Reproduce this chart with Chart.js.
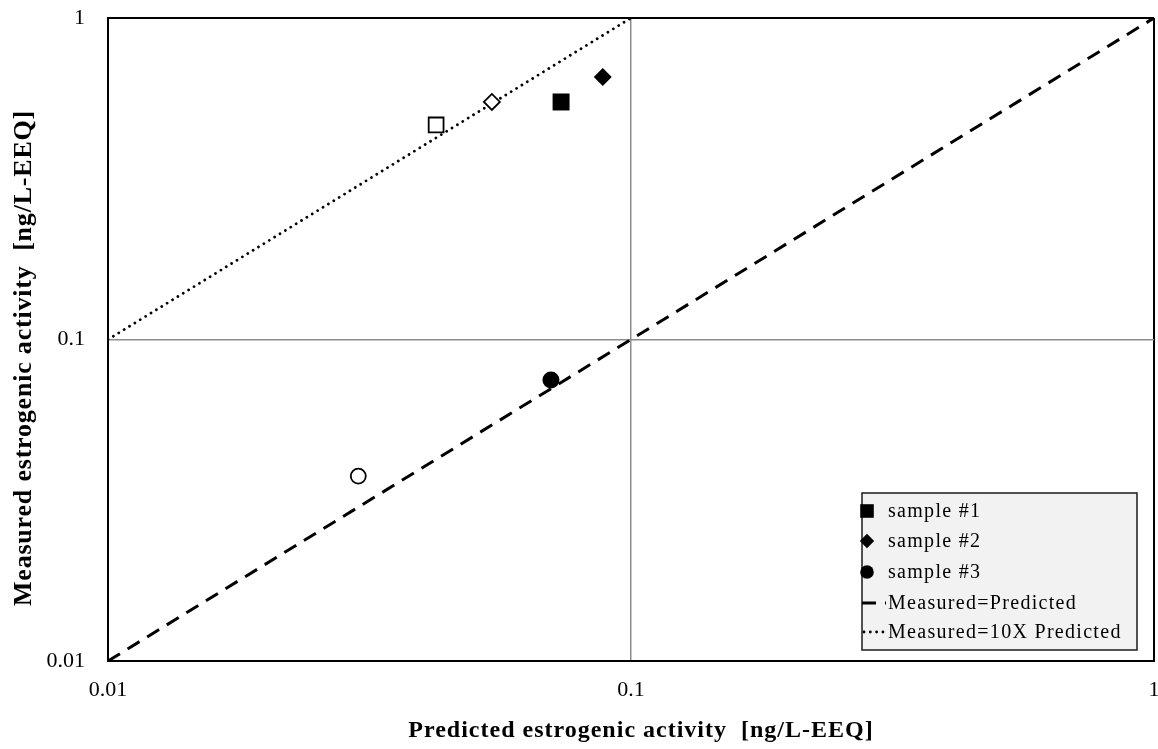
<!DOCTYPE html>
<html>
<head>
<meta charset="utf-8">
<script src="https://cdn.jsdelivr.net/npm/chart.js@4.4.1/dist/chart.umd.min.js"></script>
<style>
  html, body { margin: 0; padding: 0; background: #fff; overflow: hidden; }
  canvas { display: block; }
</style>
</head>
<body>
<canvas id="c" width="1158" height="749"></canvas>
<script>
// Sample names (filled markers appear in the legend)
const sampleNames = ['sample #1', 'sample #2', 'sample #3'];

// Filled markers: predicted vs measured activity [ng/L-EEQ]
const filledPredicted = [0.0735, 0.0883, 0.0703];
const filledMeasured  = [0.548, 0.655, 0.0748];

// Open markers of the same three samples
const openPredicted = [0.0424, 0.0542, 0.0301];
const openMeasured  = [0.465, 0.548, 0.0376];

// Reference lines
const equalLineX = [0.01, 1];
const equalLineY = [0.01, 1];
const tenXLineX  = [0.01, 0.1];
const tenXLineY  = [0.1, 1];

// Axis ticks and their labels
const axisTicks  = [0.01, 0.1, 1];
const tickLabels = ['0.01', '0.1', '1'];

const lineNames = ['Measured=Predicted', 'Measured=10X Predicted'];
const xTitle = 'Predicted estrogenic activity  [ng/L-EEQ]';
const yTitle = 'Measured estrogenic activity  [ng/L-EEQ]';

const serif = '"Liberation Serif", "Times New Roman", serif';
const shapes = ['rect', 'rectRot', 'circle'];
const filledRadius = [12, 9, 8.5];
const openRadius = [10.5, 8, 7.5];

const pts = (xs, ys) => xs.map((x, i) => ({ x, y: ys[i] }));

const datasets = [];
sampleNames.forEach((name, i) => {
  datasets.push({
    label: name,
    data: pts([filledPredicted[i]], [filledMeasured[i]]),
    pointStyle: shapes[i],
    pointRadius: filledRadius[i],
    pointHoverRadius: filledRadius[i],
    pointBackgroundColor: '#000',
    pointBorderColor: '#000',
    pointBorderWidth: 0,
    showLine: false,
    order: 1,
    inLegend: true,
    legendRadius: filledRadius[i] * 0.8
  });
});
sampleNames.forEach((name, i) => {
  datasets.push({
    label: name + ' (open)',
    data: pts([openPredicted[i]], [openMeasured[i]]),
    pointStyle: shapes[i],
    pointRadius: openRadius[i],
    pointHoverRadius: openRadius[i],
    pointBackgroundColor: '#fff',
    pointBorderColor: '#000',
    pointBorderWidth: 1.8,
    showLine: false,
    order: 1,
    inLegend: false
  });
});
datasets.push({
  label: lineNames[0],
  data: pts(equalLineX, equalLineY),
  showLine: true,
  borderColor: '#000',
  borderWidth: 3,
  borderDash: [14, 9],
  pointRadius: 0,
  order: 5,
  inLegend: true
});
datasets.push({
  label: lineNames[1],
  data: pts(tenXLineX, tenXLineY),
  showLine: true,
  borderColor: '#000',
  borderWidth: 2.8,
  borderDash: [0.01, 6.3],
  borderCapStyle: 'round',
  pointRadius: 0,
  order: 5,
  inLegend: true
});

const gridColor = c => (c.tick && c.tick.value === 0.1) ? '#8c8c8c' : '#000';
const gridWidth = c => (c.tick && c.tick.value === 0.1) ? 1.5 : 2;

// fixed axis box sizes; no extra room reserved for edge labels
function fixSize(prop, size) {
  return s => {
    s[prop] = size;
    s.paddingTop = 0; s.paddingBottom = 0;
    s.paddingLeft = 0; s.paddingRight = 0;
  };
}

function logAxis(position, tickPadding, fit) {
  return {
    type: 'logarithmic',
    position,
    min: 0.01,
    max: 1,
    afterBuildTicks: s => { s.ticks = axisTicks.map(v => ({ value: v })); },
    afterFit: fit,
    grid: { color: gridColor, lineWidth: gridWidth, drawTicks: false },
    border: { display: true, color: '#000', width: 2 },
    ticks: {
      autoSkip: false,
      maxRotation: 0,
      padding: tickPadding,
      color: '#000',
      font: { family: serif, size: 22 },
      callback: v => tickLabels[axisTicks.indexOf(v)] ?? ''
    },
    title: { display: false }
  };
}

// Legend box and axis titles
const decorations = {
  id: 'decorations',
  afterDraw(chart) {
    const ctx = chart.ctx;
    ctx.save();

    // axis titles
    ctx.fillStyle = '#000';
    ctx.textAlign = 'center';
    ctx.textBaseline = 'alphabetic';
    ctx.font = 'bold 24px ' + serif;
    ctx.letterSpacing = '1px';
    ctx.fillText(xTitle, 641, 737);
    ctx.save();
    ctx.translate(31, 358);
    ctx.rotate(-Math.PI / 2);
    ctx.font = 'bold 26px ' + serif;
    ctx.letterSpacing = '0.8px';
    ctx.fillText(yTitle, 0, 0);
    ctx.restore();

    // legend
    const box = { x: 862, y: 493, w: 275, h: 157 };
    ctx.fillStyle = '#f2f2f2';
    ctx.fillRect(box.x, box.y, box.w, box.h);
    ctx.strokeStyle = '#1a1a1a';
    ctx.lineWidth = 1.5;
    ctx.strokeRect(box.x, box.y, box.w, box.h);

    const rowY = [511, 541, 572, 603, 632];
    const items = chart.data.datasets.filter(d => d.inLegend);
    ctx.font = '20px ' + serif;
    ctx.letterSpacing = '1.3px';
    ctx.textAlign = 'left';
    ctx.textBaseline = 'middle';
    items.forEach((d, i) => {
      const y = rowY[i];
      if (d.showLine) {
        ctx.save();
        ctx.strokeStyle = d.borderColor;
        ctx.lineWidth = d.borderWidth;
        ctx.setLineDash(d.borderDash);
        ctx.lineCap = d.borderCapStyle || 'butt';
        ctx.beginPath();
        ctx.moveTo(d.borderCapStyle === 'round' ? 864 : 862, y);
        ctx.lineTo(886, y);
        ctx.stroke();
        ctx.restore();
      } else {
        ctx.save();
        ctx.fillStyle = d.pointBackgroundColor;
        ctx.strokeStyle = d.pointBorderColor;
        Chart.helpers.drawPoint(ctx, {
          pointStyle: d.pointStyle,
          radius: d.legendRadius,
          rotation: 0,
          borderWidth: 0
        }, 867, y);
        ctx.restore();
      }
      ctx.fillStyle = '#000';
      ctx.fillText(d.label, 888, y + 1);
    });
    ctx.restore();
  }
};

new Chart(document.getElementById('c'), {
  type: 'scatter',
  data: { datasets },
  options: {
    responsive: false,
    animation: false,
    layout: { autoPadding: false, padding: { top: 18, right: 4, left: 0, bottom: 0 } },
    plugins: {
      legend: { display: false },
      tooltip: { enabled: false }
    },
    scales: {
      x: logAxis('bottom', 16, fixSize('height', 88)),
      y: logAxis('left', 23, fixSize('width', 108))
    }
  },
  plugins: [decorations]
});
</script>
</body>
</html>
